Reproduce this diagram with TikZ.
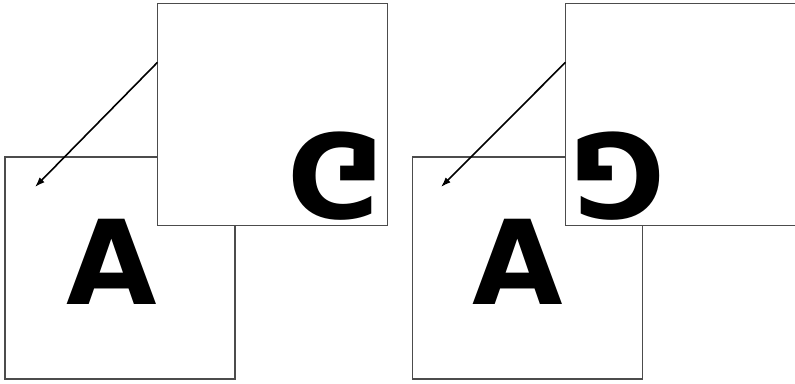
\documentclass[tikz,border=0pt]{standalone}
\usepackage{fontspec}
\newfontfamily\glyphfont{DejaVu Sans}
\usetikzlibrary{arrows.meta,positioning,calc}
\tikzset{
 frame/.style={draw=black!70,line width=1.4pt,fill=white,inner sep=0pt,outer sep=0pt,
             minimum width=230pt,minimum height=222pt},
 glyph/.style={inner sep=0pt,font=\glyphfont\bfseries\fontsize{117}{120}\selectfont},
 arrow/.style={-{Latex[length=10pt,width=7pt]},line width=1.6pt}
}
\begin{document}
\begin{tikzpicture}[x=1pt,y=-1pt]
\useasboundingbox (0,0) rectangle (795,383);
% flipped copy
\node[frame] (lowL) at (120,268) {};
\node[frame] (upL) at (272.5,114.5) {};
\node[glyph] (aL) at (112,262) {A};
\node[glyph] (gL) at (336,176) {\scalebox{1}[-1]{G}};
\coordinate (tipL) at (35,187);
\draw[arrow] ($(upL.north west)!0.265!(upL.south west)$) -- (tipL);
% rotated copy
\node[frame] (lowR) at (527.5,268) {};
\node[frame] (upR) at (680.5,114.5) {};
\node[glyph] (aR) at (518,262) {A};
\node[glyph] (gR) at (617,176) {\rotatebox{180}{G}};
\coordinate (tipR) at (441,187);
\draw[arrow] ($(upR.north west)!0.265!(upR.south west)$) -- (tipR);
\end{tikzpicture}
\end{document}
